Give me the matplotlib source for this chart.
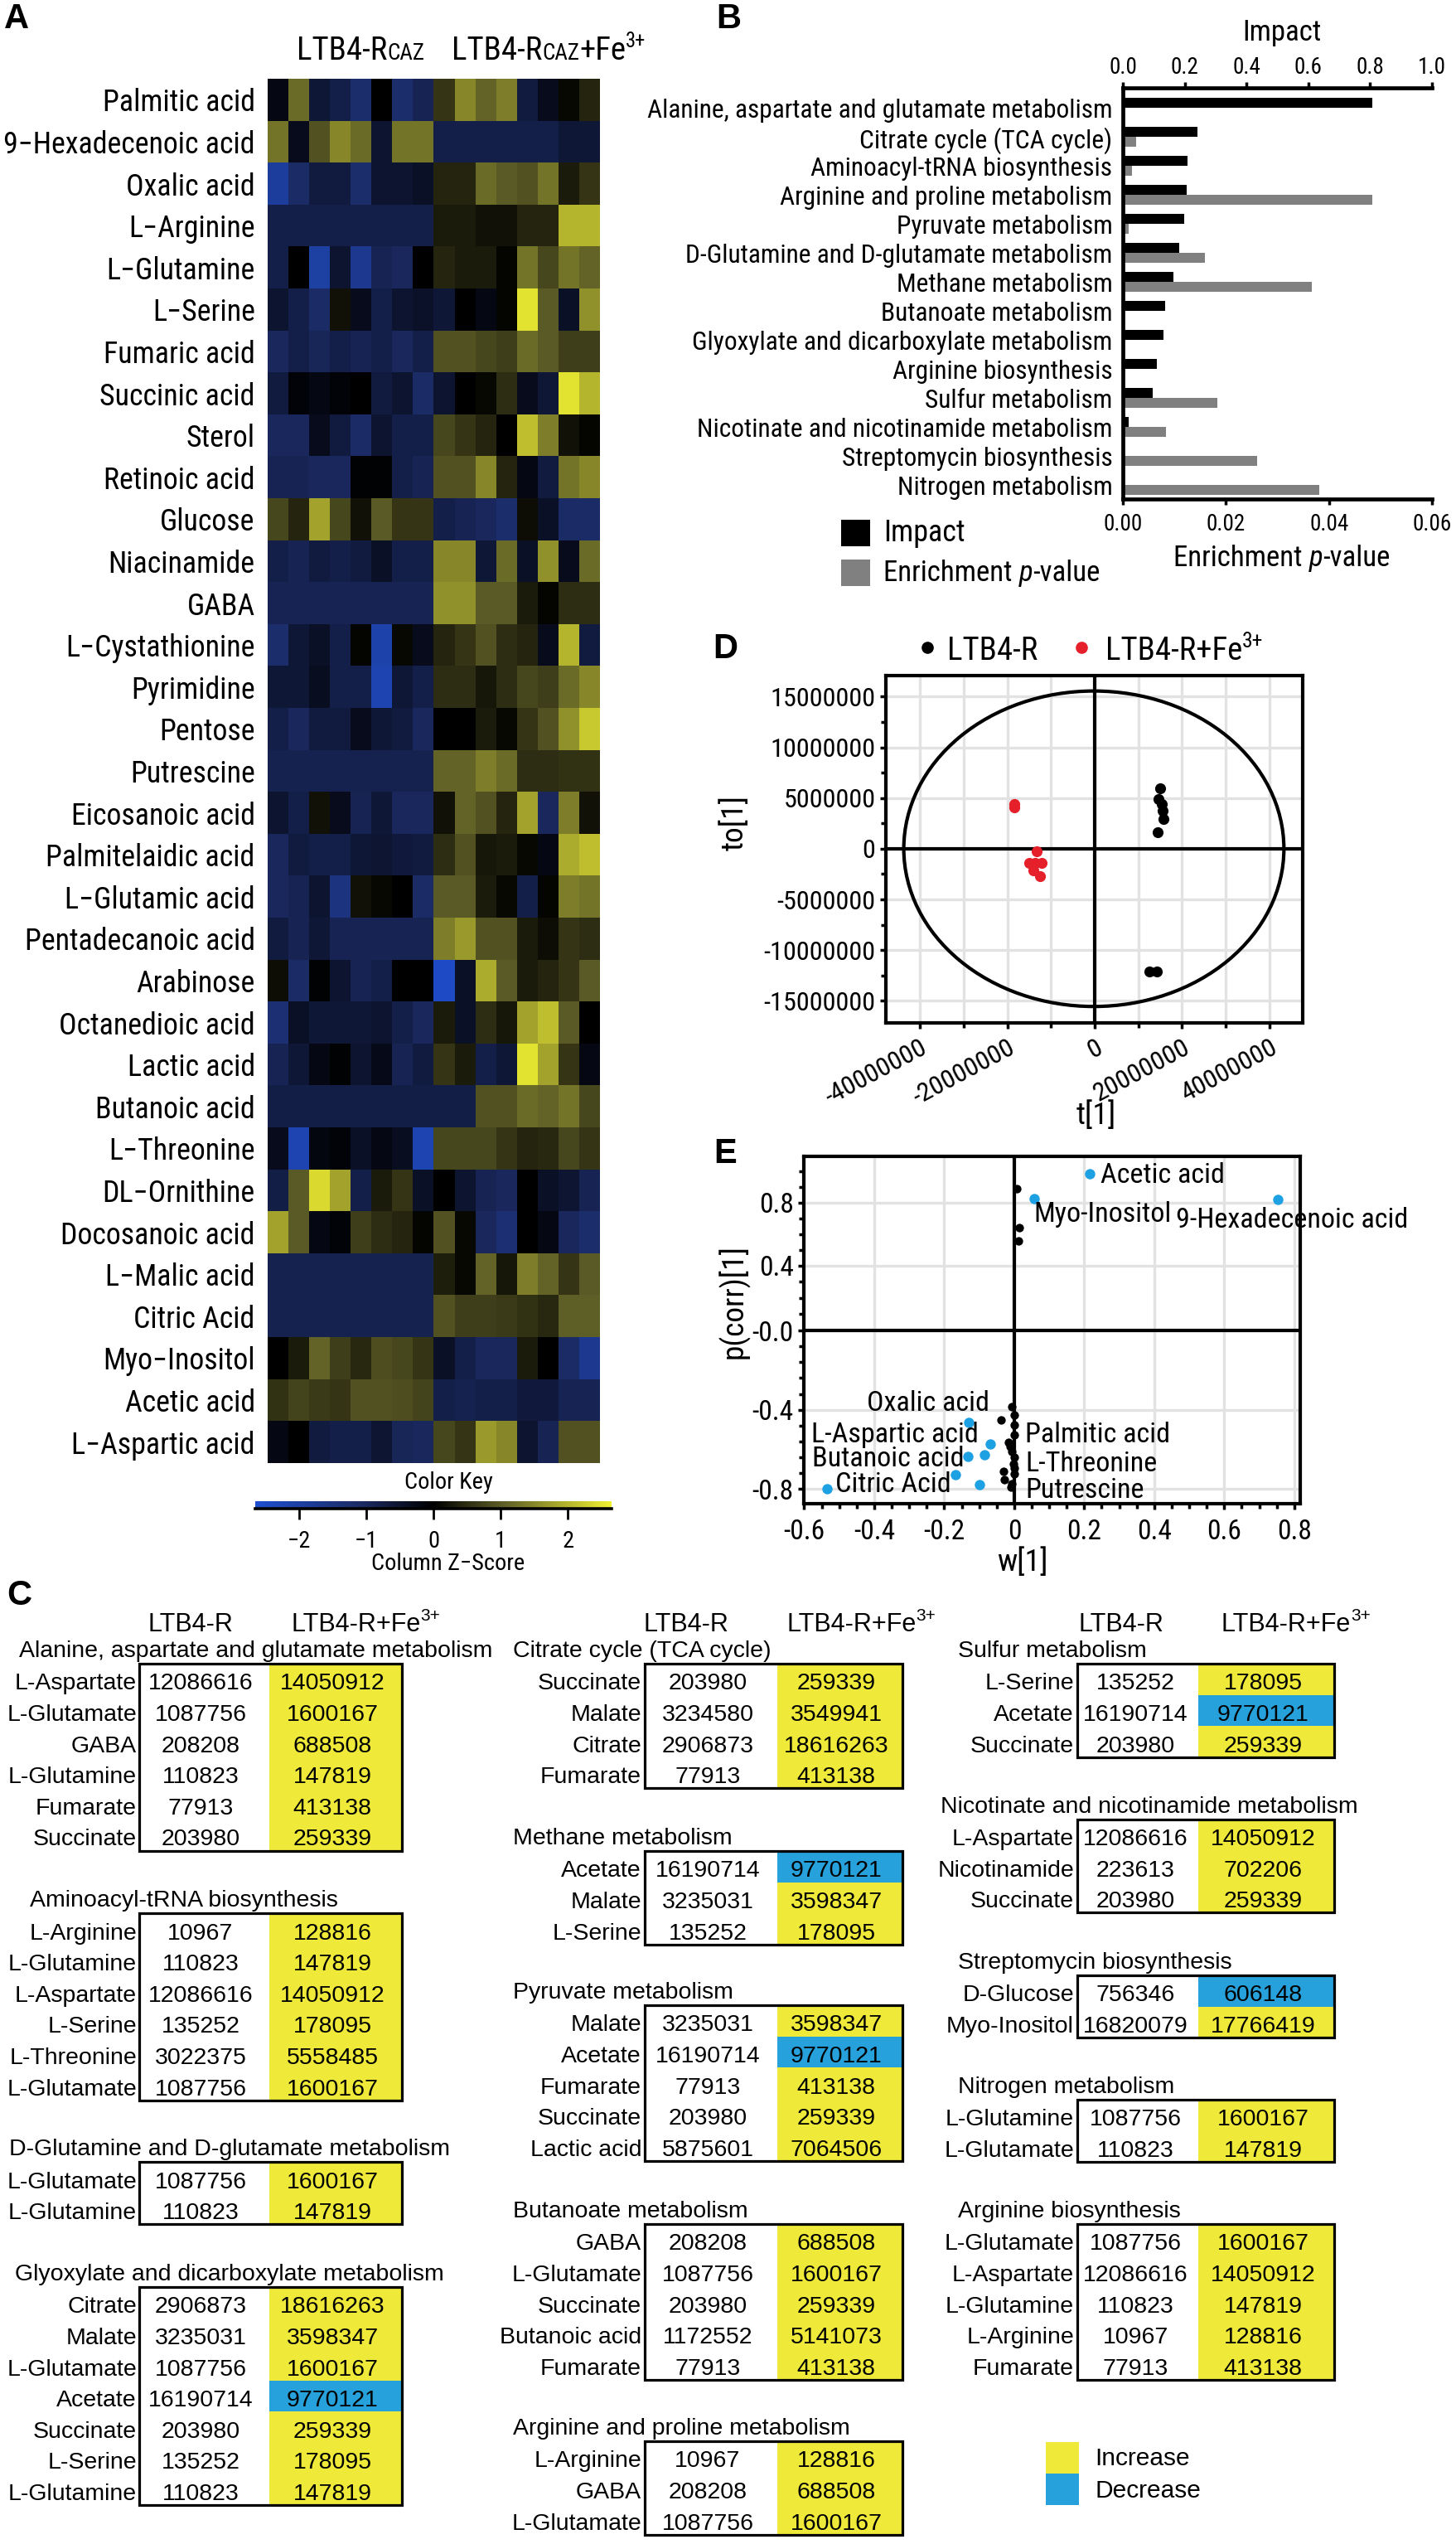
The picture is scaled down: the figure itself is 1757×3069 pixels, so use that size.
import numpy as np
import matplotlib
matplotlib.use("Agg")
import matplotlib.pyplot as plt
from matplotlib import font_manager as fm
from matplotlib.font_manager import FontProperties
from matplotlib.colors import LinearSegmentedColormap
from matplotlib.patches import Rectangle, Ellipse
from matplotlib.ticker import MultipleLocator, FixedLocator, FuncFormatter

# ============================ DATA ============================
# ---- Panel A: heatmap (column z-scores) ----
heat_labels = ["Palmitic acid", "9\u2212Hexadecenoic acid", "Oxalic acid", "L\u2212Arginine",
               "L\u2212Glutamine", "L\u2212Serine", "Fumaric acid", "Succinic acid", "Sterol",
               "Retinoic acid", "Glucose", "Niacinamide", "GABA", "L\u2212Cystathionine",
               "Pyrimidine", "Pentose", "Putrescine", "Eicosanoic acid", "Palmitelaidic acid",
               "L\u2212Glutamic acid", "Pentadecanoic acid", "Arabinose", "Octanedioic acid",
               "Lactic acid", "Butanoic acid", "L\u2212Threonine", "DL\u2212Ornithine",
               "Docosanoic acid", "L\u2212Malic acid", "Citric Acid", "Myo\u2212Inositol",
               "Acetic acid", "L\u2212Aspartic acid"]
heat_z = [
    [-0.2, 1.2, -0.6, -0.8, -1.2, 0.0, -1.2, -0.9, 0.6, 1.5, 1.1, 1.4, -0.7, -0.3, 0.1, 0.4],
    [1.3, -0.3, 0.9, 1.5, 1.2, -0.5, 1.3, 1.3, -0.8, -0.8, -0.8, -0.8, -0.8, -0.8, -0.6, -0.6],
    [-1.9, -1.1, -0.7, -0.7, -1.2, -0.5, -0.5, -0.4, 0.4, 0.4, 1.2, 1.0, 0.9, 1.3, 0.3, 0.6],
    [-0.8, -0.8, -0.8, -0.8, -0.8, -0.8, -0.8, -0.8, 0.3, 0.3, 0.2, 0.2, 0.4, 0.4, 2.0, 2.0],
    [-0.8, 0.0, -2.0, -0.5, -1.7, -0.9, -1.0, 0.0, 0.4, 0.3, 0.3, 0.05, 1.3, 0.8, 1.3, 1.1],
    [-0.5, -0.8, -1.1, 0.2, -0.3, -0.8, -0.5, -0.45, -0.6, 0.0, -0.2, 0.05, 2.5, 1.0, -0.4, 1.6],
    [-1.0, -0.8, -0.95, -0.8, -0.9, -0.8, -1.0, -0.8, 0.9, 0.9, 0.8, 0.7, 1.2, 1.0, 0.7, 0.7],
    [-0.7, -0.1, -0.2, -0.1, 0.0, -0.7, -0.5, -1.1, -0.5, 0.0, 0.1, 0.5, -0.3, -0.6, 2.5, 2.0],
    [-1.0, -1.0, -0.3, -0.7, -1.1, -0.5, -0.8, -0.8, 0.8, 0.6, 0.4, 0.0, 2.1, 1.4, 0.2, 0.05],
    [-0.9, -0.9, -1.0, -1.0, -0.05, -0.05, -0.8, -0.9, 0.9, 0.9, 1.5, 0.4, -0.2, -0.7, 1.3, 1.5],
    [0.8, 0.4, 1.8, 0.8, 0.2, 1.0, 0.6, 0.6, -0.8, -0.9, -1.0, -1.2, 0.15, -0.4, -1.1, -1.1],
    [-0.8, -0.9, -0.7, -0.8, -0.7, -0.4, -0.8, -0.8, 1.5, 1.5, -0.6, 1.2, -0.4, 1.6, -0.3, 1.2],
    [-0.9, -0.9, -0.9, -0.9, -0.9, -0.9, -0.9, -0.9, 1.6, 1.6, 1.0, 1.0, 0.3, 0.05, 0.5, 0.5],
    [-1.2, -0.6, -0.4, -0.8, 0.05, -2.1, 0.1, -0.3, 0.4, 0.6, 0.9, 0.5, 0.4, -0.3, 2.0, -0.7],
    [-0.6, -0.6, -0.35, -0.8, -0.8, -2.2, -0.6, -0.8, 0.5, 0.5, 0.25, 0.5, 0.8, 0.7, 1.2, 1.5],
    [-0.8, -1.0, -0.7, -0.7, -0.3, -0.6, -0.7, -1.0, 0.0, 0.0, 0.3, 0.1, 0.6, 0.9, 1.6, 2.2],
    [-0.85, -0.85, -0.85, -0.85, -0.85, -0.85, -0.85, -0.85, 1.1, 1.1, 1.4, 1.2, 0.5, 0.5, 0.55, 0.55],
    [-0.5, -0.8, 0.2, -0.3, -0.9, -0.6, -1.0, -1.0, 0.2, 1.1, 0.9, 0.4, 1.8, -1.0, 1.4, 0.2],
    [-1.0, -0.7, -0.8, -0.8, -0.6, -0.55, -0.65, -0.7, 0.5, 0.9, 0.25, 0.3, 0.1, -0.2, 1.9, 2.1],
    [-1.0, -0.9, -0.5, -1.5, 0.2, 0.1, 0.0, -1.1, 1.0, 1.0, 0.3, 0.1, -0.8, 0.05, 1.4, 1.3],
    [-0.7, -0.9, -0.6, -0.9, -0.9, -0.9, -0.9, -0.9, 1.4, 1.7, 0.9, 0.9, 0.3, 0.15, 0.6, 0.5],
    [0.15, -1.1, -0.05, -0.5, -0.9, -0.8, 0.0, 0.0, -2.5, -0.4, 1.9, 1.0, 0.3, 0.4, 0.6, 1.0],
    [-1.3, -0.4, -0.6, -0.6, -0.6, -0.5, -0.8, -1.0, 0.3, -0.4, 0.5, 0.25, 1.8, 2.1, 1.0, 0.0],
    [-0.9, -0.6, -0.2, -0.05, -0.5, -0.25, -0.9, -0.7, 0.6, 0.3, -0.8, -0.6, 2.5, 1.8, 0.6, -0.2],
    [-0.75, -0.75, -0.75, -0.75, -0.75, -0.75, -0.75, -0.75, -0.75, -0.75, 0.9, 0.9, 1.2, 1.1, 1.3, 0.8],
    [-0.3, -2.2, -0.15, -0.1, -0.4, -0.2, -0.35, -2.2, 0.8, 0.8, 0.8, 0.6, 0.4, 0.45, 0.8, 0.6],
    [-0.75, 1.0, 2.4, 1.8, -0.8, 0.3, 0.6, -0.4, 0.0, -0.5, -0.9, -1.0, 0.0, -0.4, -0.55, -0.9],
    [1.8, 1.0, -0.2, -0.1, 0.7, 0.5, 0.4, 0.05, 0.9, 0.1, -1.0, -1.3, 0.0, -0.2, -1.0, -1.2],
    [-0.85, -0.85, -0.85, -0.85, -0.85, -0.85, -0.85, -0.85, 0.35, 0.1, 1.1, 0.25, 1.4, 1.1, 0.6, 1.0],
    [-0.85, -0.85, -0.85, -0.85, -0.85, -0.85, -0.85, -0.85, 0.9, 0.7, 0.7, 0.65, 0.55, 0.45, 1.05, 1.05],
    [0.0, 0.3, 1.1, 0.7, 0.45, 0.85, 0.8, 0.6, -0.4, -0.8, -1.0, -1.0, 0.3, 0.0, -1.1, -1.7],
    [0.55, 0.75, 0.65, 0.6, 0.9, 0.9, 0.85, 0.75, -0.8, -0.85, -0.8, -0.8, -0.65, -0.65, -0.9, -0.9],
    [-0.2, 0.0, -0.7, -0.8, -0.8, -0.55, -0.95, -1.0, 0.8, 0.6, 1.7, 1.5, -0.5, -0.9, 0.9, 0.9],
]
key_ticks = [-2, -1, 0, 1, 2]
key_tick_labels = ["\u22122", "\u22121", "0", "1", "2"]

# ---- Panel B: pathway impact / enrichment ----
pw_names = ["Alanine, aspartate and glutamate metabolism", "Citrate cycle (TCA cycle)",
            "Aminoacyl-tRNA biosynthesis", "Arginine and proline metabolism",
            "Pyruvate metabolism", "D-Glutamine and D-glutamate metabolism",
            "Methane metabolism", "Butanoate metabolism",
            "Glyoxylate and dicarboxylate metabolism", "Arginine biosynthesis",
            "Sulfur metabolism", "Nicotinate and nicotinamide metabolism",
            "Streptomycin biosynthesis", "Nitrogen metabolism"]
pw_impact = [0.807, 0.242, 0.208, 0.206, 0.198, 0.181, 0.164, 0.137, 0.132, 0.111, 0.096, 0.02, 0.0, 0.0]
pw_pvalue = [0.0, 0.0025, 0.0018, 0.0484, 0.0012, 0.0160, 0.0367, 0.0, 0.0, 0.0, 0.0184, 0.0084, 0.0261, 0.0381]
impact_ticks = [0.0, 0.2, 0.4, 0.6, 0.8, 1.0]
pval_ticks = [0.00, 0.02, 0.04, 0.06]

# ---- Panel D: OPLS-DA scores ----
d_ctrl_t = [15.05e6, 14.55e6, 15.45e6, 15.64e6, 15.74e6, 14.36e6, 12.47e6, 14.26e6]
d_ctrl_to = [5.93e6, 4.90e6, 4.43e6, 3.73e6, 2.97e6, 1.63e6, -12.1e6, -12.1e6]
d_fe_t = [-18.4e6, -18.4e6, -13.37e6, -14.95e6, -13.66e6, -12.2e6, -13.96e6, -12.5e6]
d_fe_to = [4.40e6, 4.07e6, -0.27e6, -1.40e6, -1.40e6, -1.43e6, -2.17e6, -2.67e6]
d_ellipse = (-0.2e6, 0.0, 43.5e6, 15.55e6)   # centre t, centre to, semi-axis t, semi-axis to

# ---- Panel E: S-plot ----
e_sig_w = [0.216, 0.056, 0.753, -0.130, -0.068, -0.133, -0.084, -0.167, -0.099, -0.535]
e_sig_p = [0.987, 0.826, 0.819, -0.463, -0.573, -0.636, -0.629, -0.726, -0.776, -0.800]
e_ns_w = [0.007, 0.015, 0.011, -0.006, 0.001, 0.0, -0.038, 0.001, -0.016, -0.012,
          -0.006, 0.0, -0.002, 0.001, -0.031, -0.028, -0.006, -0.009, 0.001]
e_ns_p = [0.89, 0.643, 0.555, -0.386, -0.428, -0.475, -0.451, -0.528, -0.563, -0.584,
          -0.612, -0.640, -0.675, -0.695, -0.712, -0.751, -0.772, -0.789, -0.723]
e_lab = ["Acetic acid", "Myo-Inositol", "9-Hexadecenoic acid", "Oxalic acid", "L-Aspartic acid",
         "Butanoic acid", "Citric Acid", "Palmitic acid", "L-Threonine", "Putrescine"]
e_lab_w = [0.247, 0.056, 0.463, -0.070, -0.580, -0.577, -0.512, 0.031, 0.031, 0.031]
e_lab_p = [0.973, 0.726, 0.691, -0.368, -0.528, -0.647, -0.779, -0.528, -0.675, -0.807]
e_lab_ha = ["left", "left", "left", "right", "left", "left", "left", "left", "left", "left"]
e_xticks = [-0.6, -0.4, -0.2, 0.0, 0.2, 0.4, 0.6, 0.8]
e_xtick_labels = ["-0.6", "-0.4", "-0.2", "0", "0.2", "0.4", "0.6", "0.8"]
e_yticks = [-0.8, -0.4, 0.0, 0.4, 0.8]
e_ytick_labels = ["-0.8", "-0.4", "-0.0", "0.4", "0.8"]

# ---- Panel C: pathway tables (name, metabolites, LTB4-R, LTB4-R+Fe3+, I=increase / D=decrease) ----
t_ala = ("Alanine, aspartate and glutamate metabolism",
         ["L-Aspartate", "L-Glutamate", "GABA", "L-Glutamine", "Fumarate", "Succinate"],
         [12086616, 1087756, 208208, 110823, 77913, 203980],
         [14050912, 1600167, 688508, 147819, 413138, 259339], "IIIIII")
t_amino = ("Aminoacyl-tRNA biosynthesis",
           ["L-Arginine", "L-Glutamine", "L-Aspartate", "L-Serine", "L-Threonine", "L-Glutamate"],
           [10967, 110823, 12086616, 135252, 3022375, 1087756],
           [128816, 147819, 14050912, 178095, 5558485, 1600167], "IIIIII")
t_dglu = ("D-Glutamine and D-glutamate metabolism",
          ["L-Glutamate", "L-Glutamine"], [1087756, 110823], [1600167, 147819], "II")
t_glyox = ("Glyoxylate and dicarboxylate metabolism",
           ["Citrate", "Malate", "L-Glutamate", "Acetate", "Succinate", "L-Serine", "L-Glutamine"],
           [2906873, 3235031, 1087756, 16190714, 203980, 135252, 110823],
           [18616263, 3598347, 1600167, 9770121, 259339, 178095, 147819], "IIIDIII")
t_tca = ("Citrate cycle (TCA cycle)", ["Succinate", "Malate", "Citrate", "Fumarate"],
         [203980, 3234580, 2906873, 77913], [259339, 3549941, 18616263, 413138], "IIII")
t_meth = ("Methane metabolism", ["Acetate", "Malate", "L-Serine"],
          [16190714, 3235031, 135252], [9770121, 3598347, 178095], "DII")
t_pyr = ("Pyruvate metabolism", ["Malate", "Acetate", "Fumarate", "Succinate", "Lactic acid"],
         [3235031, 16190714, 77913, 203980, 5875601],
         [3598347, 9770121, 413138, 259339, 7064506], "IDIII")
t_but = ("Butanoate metabolism", ["GABA", "L-Glutamate", "Succinate", "Butanoic acid", "Fumarate"],
         [208208, 1087756, 203980, 1172552, 77913],
         [688508, 1600167, 259339, 5141073, 413138], "IIIII")
t_argpro = ("Arginine and proline metabolism", ["L-Arginine", "GABA", "L-Glutamate"],
            [10967, 208208, 1087756], [128816, 688508, 1600167], "III")
t_sulf = ("Sulfur metabolism", ["L-Serine", "Acetate", "Succinate"],
          [135252, 16190714, 203980], [178095, 9770121, 259339], "IDI")
t_nico = ("Nicotinate and nicotinamide metabolism", ["L-Aspartate", "Nicotinamide", "Succinate"],
          [12086616, 223613, 203980], [14050912, 702206, 259339], "III")
t_strep = ("Streptomycin biosynthesis", ["D-Glucose", "Myo-Inositol"],
           [756346, 16820079], [606148, 17766419], "DI")
t_nitro = ("Nitrogen metabolism", ["L-Glutamine", "L-Glutamate"],
           [1087756, 110823], [1600167, 147819], "II")
t_argbio = ("Arginine biosynthesis",
            ["L-Glutamate", "L-Aspartate", "L-Glutamine", "L-Arginine", "Fumarate"],
            [1087756, 12086616, 110823, 10967, 77913],
            [1600167, 14050912, 147819, 128816, 413138], "IIIII")
legend_c = ["Increase", "Decrease"]

# ============================ FONTS ============================
W, H, DPI = 1757, 3069, 100
fam_names = {f.name for f in fm.fontManager.ttflist}
REG = "Liberation Sans" if "Liberation Sans" in fam_names else "DejaVu Sans"
NARROW = REG
for cand in ["Liberation Sans Narrow", "Roboto Condensed", "Archivo Narrow",
             "Fira Sans Condensed", "Barlow Semi Condensed", "Asap Condensed"]:
    if cand in fam_names:
        NARROW = cand
        break

fig = plt.figure(figsize=(W / DPI, H / DPI), dpi=DPI)
fig.patch.set_facecolor("white")
R = fig.canvas.get_renderer()


def _w(s, family, size=10):
    t = fig.text(0, 0, s, fontsize=size, family=family)
    w = t.get_window_extent(R).width
    t.remove()
    return w


_sample = "Alanine, aspartate and glutamate metabolism 0123456789"
NW = 0.82 * _w(_sample, REG) / _w(_sample, NARROW)   # sizes below are tuned for Arial-Narrow widths

plt.rcParams["font.family"] = [NARROW, "DejaVu Sans"]
plt.rcParams["axes.unicode_minus"] = False
FAM = [REG, "DejaVu Sans"]
NFAM = [NARROW, "DejaVu Sans"]

YEL, BLU = "#efe93a", "#27a1db"
RED, EBLUE = "#e5202a", "#1ea1e3"
GRIDC = "#e2e2e2"

ov = fig.add_axes([0, 0, 1, 1], zorder=0)
ov.set_xlim(0, W); ov.set_ylim(H, 0); ov.axis("off")


def ax_px(x0, y0, x1, y1, z=2):
    return fig.add_axes([x0 / W, 1 - y1 / H, (x1 - x0) / W, (y1 - y0) / H], zorder=z)


def chain(x, y, pieces, ha="left", family=None):
    """pieces: (text, size, raise_px, style). Pieces are laid left-to-right on one baseline."""
    fam = NFAM if family is None else family
    objs = []
    for txt, size, dy, style in pieces:
        t = ov.text(0, y - dy, txt, fontsize=size, ha="left", va="baseline", family=fam, style=style)
        probe = ov.text(0, 0, txt + "|", fontsize=size, family=fam, style=style)
        bar = ov.text(0, 0, "|", fontsize=size, family=fam, style=style)
        w = probe.get_window_extent(R).width - bar.get_window_extent(R).width
        probe.remove(); bar.remove()
        objs.append((t, w))
    total = sum(w for _, w in objs)
    x0 = x if ha == "left" else (x - total / 2 if ha == "center" else x - total)
    for t, w in objs:
        t.set_x(x0)
        x0 += w


def letter(x, y, s):
    ov.text(x, y, s, fontsize=30, fontweight="bold", family=FAM, ha="center", va="center")


# ============================ PANEL A ============================
cmap = LinearSegmentedColormap.from_list(
    "bky", [(0.0, "#1f4fd0"), (0.3, "#1b2a62"), (0.5, "#000000"), (0.7, "#5f5f28"), (1.0, "#f0f032")])
VMAX = 2.65
axA = ax_px(323, 95, 724, 1765)
Z = np.array(heat_z)
nr, nc = Z.shape
axA.imshow(Z, cmap=cmap, vmin=-VMAX, vmax=VMAX, aspect="auto", interpolation="nearest",
           extent=(0, nc, nr, 0))
axA.set_xlim(0, nc); axA.set_ylim(nr, 0)
axA.set_yticks(np.arange(nr) + 0.5)
axA.set_yticklabels(heat_labels, fontsize=27.8 * NW)
axA.tick_params(axis="y", length=0, pad=11)
axA.set_xticks([])
for s in axA.spines.values():
    s.set_visible(False)

chain(358, 72, [("LTB4-R", 30 * NW, 0, "normal"), ("CAZ", 21 * NW, 0, "normal")])
chain(545, 72, [("LTB4-R", 30 * NW, 0, "normal"), ("CAZ", 21 * NW, 0, "normal"),
                ("+Fe", 30 * NW, 0, "normal"), ("3+", 19 * NW, 15, "normal")])

axK = ax_px(308, 1811, 738, 1820)
grad = np.linspace(-VMAX, VMAX, 400)[None, :]
axK.imshow(grad, cmap=cmap, vmin=-VMAX, vmax=VMAX, aspect="auto", extent=(-VMAX, VMAX, 0, 1))
axK.set_xlim(-VMAX, VMAX)
axK.set_yticks([])
axK.set_xticks(key_ticks)
axK.set_xticklabels(key_tick_labels, fontsize=22 * NW)
axK.tick_params(axis="x", length=9, width=2, pad=10)
for k in ["top", "left", "right"]:
    axK.spines[k].set_visible(False)
axK.spines["bottom"].set_linewidth(2.6)
ov.text(541, 1789, "Color Key", fontsize=22 * NW, ha="center", va="center", family=NFAM)
ov.text(541, 1887, "Column Z\u2212Score", fontsize=22 * NW, ha="center", va="center", family=NFAM)

# ============================ PANEL B ============================
axB = ax_px(1355, 106, 1728, 602)
yb = np.arange(len(pw_names))
axB.barh(yb + 0.15, pw_pvalue, height=0.33, color="#808080", zorder=2)
axB.set_xlim(0, 0.06)
axBt = axB.twiny()
axBt.set_zorder(3)
axBt.patch.set_visible(False)
axBt.barh(yb - 0.2, pw_impact, height=0.36, color="black", zorder=3)
axBt.set_xlim(0, 1.0)
axB.set_ylim(13.46, -0.71)
axB.set_yticks(yb)
axB.set_yticklabels(pw_names, fontsize=24.3 * NW)
axB.tick_params(axis="y", length=0, pad=9)
axB.set_xticks(pval_ticks)
axB.set_xticklabels(["%.2f" % v for v in pval_ticks], fontsize=21 * NW)
axB.tick_params(axis="x", length=5, width=2.5, pad=7)
axBt.set_xticks(impact_ticks)
axBt.set_xticklabels(["%.1f" % v for v in impact_ticks], fontsize=21 * NW)
axBt.tick_params(axis="x", length=5, width=2.5, pad=3)
for a in (axB, axBt):
    for s in a.spines.values():
        s.set_visible(False)
axB.spines["left"].set_visible(True); axB.spines["left"].set_linewidth(3.4)
axB.spines["bottom"].set_visible(True); axB.spines["bottom"].set_linewidth(3.4)
axBt.spines["top"].set_visible(True); axBt.spines["top"].set_linewidth(3.4)
ov.text(1547, 40, "Impact", fontsize=27 * NW, ha="center", va="center", family=NFAM)
chain(1547, 683, [("Enrichment ", 27 * NW, 0, "normal"), ("p", 27 * NW, 0, "italic"),
                  ("-value", 27 * NW, 0, "normal")], ha="center")
ov.add_patch(Rectangle((1015, 627), 35, 32, color="black", lw=0))
ov.add_patch(Rectangle((1015, 675), 35, 32, color="#808080", lw=0))
ov.text(1066, 643, "Impact", fontsize=28 * NW, ha="left", va="center", family=NFAM)
chain(1066, 701, [("Enrichment ", 27 * NW, 0, "normal"), ("p", 27 * NW, 0, "italic"),
                  ("-value", 27 * NW, 0, "normal")])

# ============================ PANEL D ============================
axD = ax_px(1069, 815, 1572, 1234)
axD.set_axisbelow(True)
axD.set_xlim(-47.8e6, 47.6e6)
axD.set_ylim(-17.17e6, 17.07e6)
axD.xaxis.set_major_locator(MultipleLocator(20e6))
axD.xaxis.set_minor_locator(MultipleLocator(10e6))
axD.yaxis.set_major_locator(MultipleLocator(5e6))
axD.yaxis.set_minor_locator(MultipleLocator(2.5e6))
axD.grid(True, which="both", axis="x", color=GRIDC, lw=2.4)
axD.grid(True, which="major", axis="y", color=GRIDC, lw=2.4)
axD.axhline(0, color="black", lw=3, zorder=1)
axD.axvline(0, color="black", lw=3, zorder=1)
axD.add_patch(Ellipse((d_ellipse[0], d_ellipse[1]), 2 * d_ellipse[2], 2 * d_ellipse[3],
                      fill=False, ec="black", lw=3, zorder=2))
axD.scatter(d_ctrl_t, d_ctrl_to, s=90, color="black", zorder=4, lw=0)
axD.scatter(d_fe_t, d_fe_to, s=90, color=RED, zorder=4, lw=0)
fmtD = FuncFormatter(lambda v, p: "%d" % int(round(v)))
axD.xaxis.set_major_formatter(fmtD)
axD.yaxis.set_major_formatter(fmtD)
axD.tick_params(axis="both", which="both", direction="out", width=2.5, labelsize=25 * NW)
axD.tick_params(axis="both", which="major", length=5)
axD.tick_params(axis="both", which="minor", length=4)
axD.tick_params(axis="y", pad=4)
axD.tick_params(axis="x", pad=6)
for lab in axD.get_xticklabels():
    lab.set_rotation(28); lab.set_ha("right"); lab.set_rotation_mode("anchor")
for s in axD.spines.values():
    s.set_linewidth(3)
ov.text(887, 992, "to[1]", fontsize=29 * NW, rotation=90, ha="center", va="center", family=NFAM)
ov.text(1323, 1346, "t[1]", fontsize=29 * NW, ha="center", va="center", family=NFAM)
ov.plot([1119], [781], "o", color="black", ms=9.5)
ov.text(1143, 796, "LTB4-R", fontsize=30 * NW, ha="left", va="baseline", family=NFAM)
ov.plot([1305], [781], "o", color=RED, ms=9.5)
chain(1334, 796, [("LTB4-R+Fe", 30 * NW, 0, "normal"), ("3+", 20 * NW, 15, "normal")])

# ============================ PANEL E ============================
e_yv = [-1.2, -0.8, -0.4, 0.0, 0.4, 0.8, 1.2]
e_pv = [-1567.0, -1280.0, -993.0, -706.0, -470.0, -243.0, -16.0]


def e_fwd(y):
    return np.interp(y, e_yv, e_pv)


def e_inv(p):
    return np.interp(p, e_pv, e_yv)


axE = ax_px(970, 1395, 1569, 1814, z=3)
axE.set_axisbelow(True)
axE.set_yscale("function", functions=(e_fwd, e_inv))
axE.set_xlim(-0.601, 0.817)
axE.set_ylim(-0.874, 1.096)
axE.set_xticks(e_xticks)
axE.set_xticklabels(e_xtick_labels)
axE.xaxis.set_minor_locator(MultipleLocator(0.05))
axE.set_yticks(e_yticks)
axE.set_yticklabels(e_ytick_labels)
axE.yaxis.set_minor_locator(FixedLocator([0.1 * k for k in range(1, 11)] +
                                         [-0.08 * k for k in range(1, 11)]))
axE.grid(True, which="major", color=GRIDC, lw=2.4)
axE.axhline(0, color="black", lw=3, zorder=1)
axE.axvline(0, color="black", lw=3, zorder=1)
axE.scatter(e_ns_w, e_ns_p, s=55, color="black", zorder=4, lw=0)
axE.scatter(e_sig_w, e_sig_p, s=80, color=EBLUE, zorder=5, lw=0)
for t, xw, yp, ha in zip(e_lab, e_lab_w, e_lab_p, e_lab_ha):
    axE.text(xw, yp, t, fontsize=26.5 * NW, ha=ha, va="center", zorder=6, clip_on=False)
axE.tick_params(axis="both", which="both", direction="out", width=2.5, labelsize=26 * NW)
axE.tick_params(axis="both", which="major", length=5)
axE.tick_params(axis="both", which="minor", length=4)
axE.tick_params(axis="x", pad=8)
axE.tick_params(axis="y", pad=4)
for s in axE.spines.values():
    s.set_linewidth(3)
ov.text(885, 1570, "p(corr)[1]", fontsize=29 * NW, rotation=90, ha="center", va="center", family=NFAM)
ov.text(1234, 1885, "w[1]", fontsize=29 * NW, ha="center", va="center", family=NFAM)

# ============================ PANEL C ============================
RH = 37.6
FS_T = 20.5
col_geo = {
    1: dict(lab=165, x0=168, xs=324.5, x1=485, c1=242, c2=401, h1=230, h2=441),
    2: dict(lab=774, x0=777.5, xs=937.5, x1=1089, c1=854, c2=1009, h1=827.5, h2=1039),
    3: dict(lab=1296, x0=1300, xs=1446, x1=1609.5, c1=1370.5, c2=1524, h1=1352.5, h2=1564),
}
layout_c = [
    (t_ala, 1, 23, 2007), (t_amino, 1, 36, 2308), (t_dglu, 1, 11, 2608), (t_glyox, 1, 18, 2759),
    (t_tca, 2, 619, 2007), (t_meth, 2, 619, 2233), (t_pyr, 2, 619, 2419), (t_but, 2, 619, 2683),
    (t_argpro, 2, 619, 2945),
    (t_sulf, 3, 1156, 2007), (t_nico, 3, 1135, 2194.6), (t_strep, 3, 1156, 2383),
    (t_nitro, 3, 1156, 2533), (t_argbio, 3, 1156, 2683),
]
for c in (1, 2, 3):
    g = col_geo[c]
    ov.text(g["h1"], 1968, "LTB4-R", fontsize=22, family=FAM, ha="center", va="baseline")
    chain(g["h2"], 1968, [("LTB4-R+Fe", 22, 0, "normal"), ("3+", 15, 13, "normal")],
          ha="center", family=FAM)

for (title, mets, v1, v2, dirs), c, tx, top in layout_c:
    g = col_geo[c]
    ov.text(tx, top - 8, title, fontsize=FS_T, family=FAM, ha="left", va="baseline")
    for i, (m, a, b, d) in enumerate(zip(mets, v1, v2, dirs)):
        y0 = top + i * RH
        ov.add_patch(Rectangle((g["xs"], y0), g["x1"] - g["xs"], RH,
                               color=(YEL if d == "I" else BLU), lw=0))
        yb_ = y0 + 31.5
        ov.text(g["lab"], yb_, m, fontsize=FS_T, family=FAM, ha="right", va="baseline")
        ov.text(g["c1"], yb_, str(a), fontsize=FS_T, family=FAM, ha="center", va="baseline")
        ov.text(g["c2"], yb_, str(b), fontsize=FS_T, family=FAM, ha="center", va="baseline")
    ov.add_patch(Rectangle((g["x0"], top), g["x1"] - g["x0"], len(mets) * RH,
                           fill=False, ec="black", lw=2.3))

ov.add_patch(Rectangle((1262, 2946), 40, 37.5, color=YEL, lw=0))
ov.add_patch(Rectangle((1262, 2983.5), 40, 38.5, color=BLU, lw=0))
ov.text(1321, 2966, legend_c[0], fontsize=21.5, family=FAM, ha="left", va="center")
ov.text(1321, 3005, legend_c[1], fontsize=21.5, family=FAM, ha="left", va="center")

# ============================ letters ============================
letter(20, 23, "A")
letter(879, 23, "B")
letter(23, 1925, "C")
letter(875, 783, "D")
letter(875, 1392, "E")

fig.savefig("out.png", dpi=DPI, facecolor="white")
